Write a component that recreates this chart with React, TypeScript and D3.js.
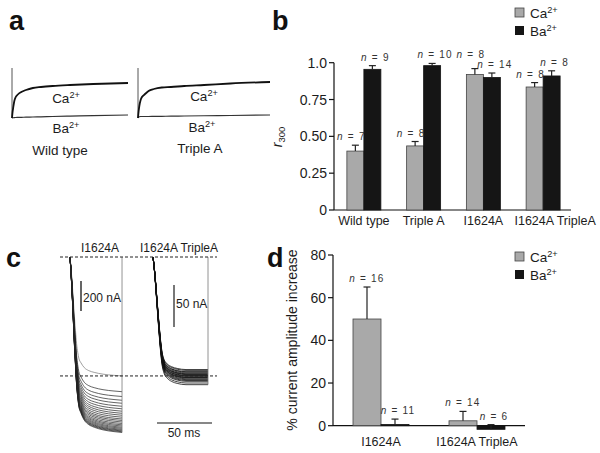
import React from 'react';
import * as d3 from 'd3';

const FONT = '"Liberation Sans", Arial, Helvetica, sans-serif';
const INK = '#1c1c1c';
const CA_FILL = '#a9a9a9';
const BA_FILL = '#151515';

// --- panel a: recovery curves (normalized) ---
const recoveryTimes = [0, 0.5, 1, 2, 3, 5, 8, 12, 18, 25, 35, 50, 70, 100];
const wtCaRecovery = [0, 0.12, 0.2, 0.34, 0.41, 0.47, 0.52, 0.56, 0.6, 0.62, 0.64, 0.66, 0.68, 0.7];
const wtBaRecovery = [0, 0.003, 0.005, 0.008, 0.01, 0.012, 0.014, 0.016, 0.02, 0.024, 0.03, 0.038, 0.048, 0.06];
const taCaRecovery = [0, 0.14, 0.24, 0.36, 0.42, 0.47, 0.54, 0.58, 0.61, 0.62, 0.64, 0.66, 0.69, 0.72];
const taBaRecovery = [0, 0.02, 0.025, 0.03, 0.03, 0.03, 0.03, 0.032, 0.034, 0.036, 0.04, 0.045, 0.05, 0.06];

// --- panel b: r300 ---
const r300Groups = ['Wild type', 'Triple A', 'I1624A', 'I1624A TripleA'];
const r300Ca = [0.4, 0.435, 0.92, 0.835];
const r300CaErr = [0.04, 0.03, 0.04, 0.03];
const r300Ba = [0.955, 0.98, 0.9, 0.91];
const r300BaErr = [0.025, 0.015, 0.03, 0.035];
const r300CaN = [7, 8, 8, 8];
const r300BaN = [9, 10, 14, 8];
const r300Ticks = [0, 0.25, 0.5, 0.75, 1];
const r300TickLabels = ['0', '0.25', '0.50', '0.75', '1.0'];

// --- panel c: current traces ---
const leftShapeT = [0, 1, 2, 3, 4, 5, 6, 7, 8, 10, 13, 17, 22, 30, 40, 47.3];
const leftShapeFrac = [0, 0.1, 0.22, 0.36, 0.5, 0.62, 0.73, 0.8, 0.85, 0.89, 0.93, 0.955, 0.97, 0.985, 0.995, 1];
const leftAmps = [793, 898, 930, 955, 975, 995, 1012, 1028, 1042, 1055, 1068, 1080, 1090, 1100, 1110, 1119, 1127, 1135, 1142, 1149, 1155, 1160, 1165, 1170];
const rightShapeT = [0, 1, 2, 3, 4, 5, 6, 7, 8, 10, 13, 17, 22, 30, 40, 50];
const rightShapeFrac = [0, 0.08, 0.18, 0.3, 0.42, 0.54, 0.65, 0.75, 0.83, 0.91, 0.95, 0.975, 0.99, 1, 1, 1];
const rightAmps = [134, 135, 136.5, 137, 138, 139, 139.5, 140, 141, 141.5, 142, 143, 143.5, 144, 145, 146, 147, 148, 150, 152];

// --- panel d: % current amplitude increase ---
const incGroups = ['I1624A', 'I1624A TripleA'];
const incCa = [50, 2.3];
const incCaErr = [15, 4.4];
const incBa = [0.6, -1.7];
const incBaErr = [2.5, 2.2];
const incCaN = [16, 14];
const incBaN = [11, 6];
const incTicks = [0, 20, 40, 60, 80];

const Ion = ({ x, y, base, size = 13.5, anchor = 'middle' }: { x: number; y: number; base: string; size?: number; anchor?: string }) => (
  <text x={x} y={y} fontSize={size} textAnchor={anchor as any} fill={INK}>
    {base}<tspan dy={-5} fontSize={size * 0.68}>2+</tspan>
  </text>
);

const NLabel = ({ x, y, n }: { x: number; y: number; n: number }) => (
  <text x={x} y={y} fontSize={10} textAnchor="middle" fill="#333" letterSpacing={1.2}>
    <tspan fontStyle="italic">n</tspan> = {n}
  </text>
);

const Legend = ({ x, y }: { x: number; y: number }) => (
  <g>
    <rect x={x} y={y} width={9} height={9} fill={CA_FILL} stroke="#444" strokeWidth={0.8} />
    <Ion x={x + 15} y={y + 9.5} base="Ca" size={13.5} anchor="start" />
    <rect x={x} y={y + 18} width={9} height={9} fill={BA_FILL} />
    <Ion x={x + 15} y={y + 27.5} base="Ba" size={13.5} anchor="start" />
  </g>
);

function Bars({ groups, ca, caErr, ba, baErr, caN, baN, x, y, barW, caShift }: any) {
  const zero = y(0);
  const marks: any[] = [];
  const labels: any[] = [];
  groups.forEach((g: string, i: number) => {
    const c = (x(g) ?? 0) + x.bandwidth() / 2;
    const baseCa = y(ca[i] + caErr[i]) - 5;
    const baseBa = y(ba[i] + baErr[i]) - 5;
    const labCa = Math.abs(baseCa - baseBa) < 10 ? Math.min(baseCa, baseBa - 10) : baseCa;
    const items = [
      { v: ca[i], e: caErr[i], n: caN[i], x0: c - barW, fill: CA_FILL, stroke: '#444', ly: labCa, dx: caShift },
      { v: ba[i], e: baErr[i], n: baN[i], x0: c, fill: BA_FILL, stroke: BA_FILL, ly: baseBa, dx: 3 },
    ];
    items.forEach((it, k) => {
      const top = Math.min(y(it.v), zero);
      const h = Math.abs(y(it.v) - zero);
      const cx = it.x0 + barW / 2;
      marks.push(
        <g key={g + k}>
          <rect x={it.x0} y={top} width={barW} height={h} fill={it.fill} stroke={it.stroke} strokeWidth={0.8} />
          <line x1={cx} x2={cx} y1={y(it.v)} y2={y(it.v + it.e)} stroke="#222" strokeWidth={1.2} />
          <line x1={cx - 3.5} x2={cx + 3.5} y1={y(it.v + it.e)} y2={y(it.v + it.e)} stroke="#222" strokeWidth={1.2} />
        </g>
      );
      labels.push(<NLabel key={g + k} x={cx + it.dx} y={it.ly} n={it.n} />);
    });
  });
  return <g>{marks}{labels}</g>;
}

export default function App() {
  // panel a scales
  const yA = d3.scaleLinear().domain([0, 1]).range([118, 68]);
  const xA1 = d3.scaleLinear().domain([0, 100]).range([12, 128]);
  const xA2 = d3.scaleLinear().domain([0, 100]).range([138, 270]);
  const curveA = (xs: d3.ScaleLinear<number, number>, vals: number[]) =>
    d3.line<number>().x((_, i) => xs(recoveryTimes[i])).y(d => yA(d)).curve(d3.curveMonotoneX)(vals) ?? '';

  // panel b scales
  const xB = d3.scaleBand().domain(r300Groups).range([334, 573]);
  const yB = d3.scaleLinear().domain([0, 1]).range([210, 62.7]);

  // panel c scales
  const cxL = d3.scaleLinear().domain([0, 50]).range([70, 125]);
  const cxR = d3.scaleLinear().domain([0, 50]).range([153, 208]);
  const cyL = d3.scaleLinear().domain([0, 1200]).range([257, 437]);
  const cyR = d3.scaleLinear().domain([0, 150]).range([257, 383]);
  const traceL = (a: number) =>
    d3.line<number>().x((_, i) => cxL(leftShapeT[i])).y(f => cyL(a * f)).curve(d3.curveMonotoneX)(leftShapeFrac) ?? '';
  const traceR = (a: number) =>
    d3.line<number>().x((_, i) => cxR(rightShapeT[i])).y(f => cyR(a * f)).curve(d3.curveMonotoneX)(rightShapeFrac) ?? '';
  const tEndL = leftShapeT[leftShapeT.length - 1];
  const tEndR = rightShapeT[rightShapeT.length - 1];

  // panel d scales
  const xD = d3.scaleBand().domain(incGroups).range([333, 525]);
  const yD = d3.scaleLinear().domain([0, 80]).range([425.7, 255]);

  return (
    <div style={{ position: 'absolute', left: 0, top: 0 }}>
      <svg width={600} height={453} fontFamily={FONT} style={{ display: 'block', background: '#fff' }}>
        {/* panel letters */}
        <g fontSize={27} fontWeight="bold" fill="#111">
          <text x={9} y={30}>a</text>
          <text x={272} y={30}>b</text>
          <text x={6} y={267}>c</text>
          <text x={267} y={267}>d</text>
        </g>

        {/* ---- a ---- */}
        <line x1={xA1(0)} x2={xA1(0)} y1={yA(0)} y2={yA(1)} stroke="#555" strokeWidth={1} />
        <path d={curveA(xA1, wtBaRecovery)} fill="none" stroke="#333" strokeWidth={1.2} />
        <path d={curveA(xA1, wtCaRecovery)} fill="none" stroke="#111" strokeWidth={1.8} />
        <Ion x={66} y={103} base="Ca" />
        <Ion x={66} y={133} base="Ba" />
        <text x={60} y={155} fontSize={13.5} textAnchor="middle" fill={INK}>Wild type</text>

        <line x1={xA2(0)} x2={xA2(0)} y1={yA(0)} y2={yA(1)} stroke="#555" strokeWidth={1} />
        <path d={curveA(xA2, taBaRecovery)} fill="none" stroke="#333" strokeWidth={1.2} />
        <path d={curveA(xA2, taCaRecovery)} fill="none" stroke="#111" strokeWidth={1.8} />
        <Ion x={204} y={101} base="Ca" />
        <Ion x={202} y={132} base="Ba" />
        <text x={200} y={153} fontSize={13.5} textAnchor="middle" fill={INK}>Triple A</text>

        {/* ---- b ---- */}
        <Legend x={515} y={8} />
        <line x1={334} x2={334} y1={yB(0)} y2={yB(1)} stroke="#111" strokeWidth={1.2} />
        <line x1={334} x2={571} y1={yB(0)} y2={yB(0)} stroke="#111" strokeWidth={1.2} />
        {r300Ticks.map((t, i) => (
          <g key={t}>
            <line x1={329} x2={334} y1={yB(t)} y2={yB(t)} stroke="#111" strokeWidth={1.2} />
            <text x={327} y={yB(t) + 5} fontSize={14} textAnchor="end" fill={INK}>{r300TickLabels[i]}</text>
          </g>
        ))}
        <Bars groups={r300Groups} ca={r300Ca} caErr={r300CaErr} ba={r300Ba} baErr={r300BaErr}
          caN={r300CaN} baN={r300BaN} x={xB} y={yB} barW={17} caShift={-4} />
        {r300Groups.map((g, i) => (
          <text key={g} x={(xB(g) ?? 0) + xB.bandwidth() / 2 + (i === r300Groups.length - 1 ? 12 : 0)} y={225}
            fontSize={12.5} textAnchor="middle" fill={INK}>{g}</text>
        ))}
        <text transform="translate(282,137) rotate(-90)" fontSize={14} textAnchor="middle" fill={INK}>
          <tspan fontStyle="italic">r</tspan><tspan dy={3} fontSize={9.5}>300</tspan>
        </text>

        {/* ---- c ---- */}
        <text x={100} y={252} fontSize={12} textAnchor="middle" fill={INK}>I1624A</text>
        <text x={179} y={252} fontSize={12} textAnchor="middle" fill={INK}>I1624A TripleA</text>
        {leftAmps.map((a, i) => (
          <path key={i} d={traceL(a)} fill="none" stroke={i === 0 ? '#777' : '#222'} strokeWidth={0.7} />
        ))}
        <line x1={cxL(tEndL)} x2={cxL(tEndL)} y1={cyL(0)} y2={cyL(d3.max(leftAmps) ?? 0)} stroke="#777" strokeWidth={0.8} />
        {rightAmps.map((a, i) => (
          <path key={i} d={traceR(a)} fill="none" stroke="#111" strokeWidth={0.8} />
        ))}
        <line x1={cxR(tEndR)} x2={cxR(tEndR)} y1={cyR(0)} y2={cyR(d3.max(rightAmps) ?? 0)} stroke="#777" strokeWidth={0.8} />
        <line x1={60} x2={217} y1={cyL(0)} y2={cyL(0)} stroke="#222" strokeWidth={1} strokeDasharray="3,2" />
        <line x1={60} x2={217} y1={cyL(leftAmps[0])} y2={cyL(leftAmps[0])} stroke="#222" strokeWidth={1} strokeDasharray="3,2" />
        {/* scale bars */}
        <line x1={81} x2={81} y1={281} y2={281 + cyL(200) - cyL(0)} stroke="#333" strokeWidth={1.5} />
        <text x={83} y={302} fontSize={12} fill={INK}>200 nA</text>
        <line x1={174} x2={174} y1={285} y2={285 + cyR(50) - cyR(0)} stroke="#777" strokeWidth={2} />
        <text x={176} y={308} fontSize={12} fill={INK}>50 nA</text>
        <line x1={157} x2={157 + cxR(50) - cxR(0)} y1={423} y2={423} stroke="#111" strokeWidth={1.2} />
        <text x={184} y={437} fontSize={12} textAnchor="middle" fill={INK}>50 ms</text>

        {/* ---- d ---- */}
        <Legend x={515} y={252} />
        <line x1={333} x2={333} y1={yD(0)} y2={yD(80)} stroke="#111" strokeWidth={1.2} />
        <line x1={333} x2={525} y1={yD(0)} y2={yD(0)} stroke="#111" strokeWidth={1.2} />
        {incTicks.map(t => (
          <g key={t}>
            <line x1={328} x2={333} y1={yD(t)} y2={yD(t)} stroke="#111" strokeWidth={1.2} />
            <text x={326} y={yD(t) + 5} fontSize={14} textAnchor="end" fill={INK}>{t}</text>
          </g>
        ))}
        <Bars groups={incGroups} ca={incCa} caErr={incCaErr} ba={incBa} baErr={incBaErr}
          caN={incCaN} baN={incBaN} x={xD} y={yD} barW={28} caShift={0} />
        {incGroups.map(g => (
          <text key={g} x={(xD(g) ?? 0) + xD.bandwidth() / 2} y={446} fontSize={12.5} textAnchor="middle" fill={INK}>{g}</text>
        ))}
        <text transform="translate(297,340) rotate(-90)" fontSize={14} textAnchor="middle" fill={INK}>% current amplitude increase</text>
      </svg>
    </div>
  );
}
